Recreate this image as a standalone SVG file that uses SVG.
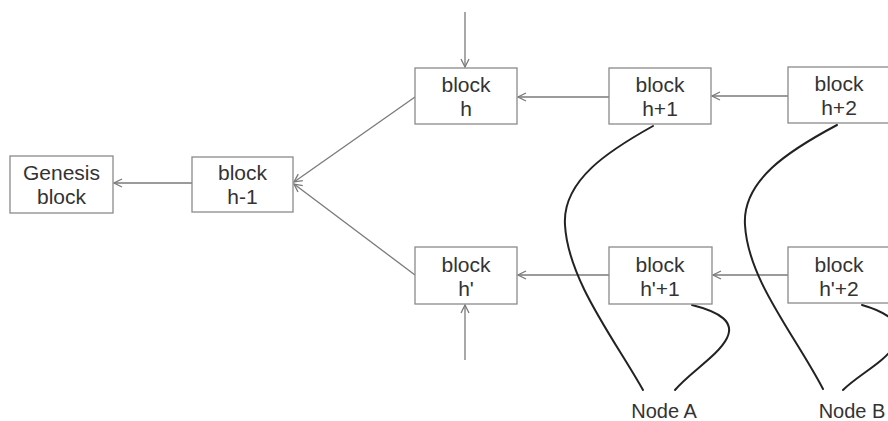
<svg xmlns="http://www.w3.org/2000/svg" width="888" height="421" viewBox="0 0 888 421">
  <style>
    .box { fill: #ffffff; stroke: #8a8a8a; stroke-width: 1.3; }
    .lbl { font-family: "Liberation Sans", Arial, sans-serif; font-size: 21px; fill: #333333; text-anchor: middle; }
    .link { fill: none; stroke: #7a7a7a; stroke-width: 1.3; marker-end: url(#arrow); }
    .peer { fill: none; stroke: #222222; stroke-width: 2; stroke-linecap: round; }
  </style>
  <defs>
    <marker id="arrow" viewBox="0 0 10 10" refX="9" refY="5" markerWidth="10" markerHeight="10" markerUnits="userSpaceOnUse" orient="auto">
      <polyline points="1,1 9,5 1,9" fill="none" stroke="#7a7a7a" stroke-width="1.3"/>
    </marker>
  </defs>
  <rect width="888" height="421" fill="#ffffff"/>

  <g id="connectors">
    <line class="link" x1="192" y1="183" x2="114" y2="183"/>
    <line class="link" x1="415" y1="97" x2="294" y2="182"/>
    <line class="link" x1="415" y1="275" x2="294" y2="184"/>
    <line class="link" x1="609" y1="97" x2="518" y2="97"/>
    <line class="link" x1="788" y1="96" x2="712" y2="96"/>
    <line class="link" x1="609" y1="275" x2="518" y2="275"/>
    <line class="link" x1="788" y1="275" x2="713" y2="275"/>
    <line class="link" x1="465" y1="12" x2="465" y2="67"/>
    <line class="link" x1="465" y1="360" x2="465" y2="305"/>
    <!-- peer links of Node A -->
    <path class="peer" d="M653,126 C610,150 562,180 565,225 C568,280 615,340 643,390"/>
    <path class="peer" d="M692,305 C720,312 735,322 727,338 C718,356 690,372 675,390"/>
    <!-- peer links of Node B -->
    <path class="peer" d="M837,125 C790,150 742,180 745,225 C748,280 795,335 823,389"/>
    <path class="peer" d="M862,305 C890,313 905,325 895,345 C885,362 858,375 843,390"/>
  </g>

  <g id="genesis">
    <rect class="box" x="10" y="156" width="103" height="57"/>
    <text class="lbl" x="61.5" y="180">Genesis</text>
    <text class="lbl" x="61.5" y="204">block</text>
  </g>
  <g id="block-h-1">
    <rect class="box" x="192" y="157" width="101" height="55"/>
    <text class="lbl" x="242.5" y="180">block</text>
    <text class="lbl" x="242.5" y="204">h-1</text>
  </g>
  <g id="block-h">
    <rect class="box" x="415" y="68" width="102" height="56"/>
    <text class="lbl" x="466" y="92">block</text>
    <text class="lbl" x="466" y="116">h</text>
  </g>
  <g id="block-h1">
    <rect class="box" x="609" y="68" width="102" height="56"/>
    <text class="lbl" x="660" y="92">block</text>
    <text class="lbl" x="660" y="116">h+1</text>
  </g>
  <g id="block-h2">
    <rect class="box" x="788" y="67" width="110" height="56"/>
    <text class="lbl" x="839" y="91">block</text>
    <text class="lbl" x="839" y="115">h+2</text>
  </g>
  <g id="block-hp">
    <rect class="box" x="415" y="247" width="102" height="57"/>
    <text class="lbl" x="466" y="272">block</text>
    <text class="lbl" x="466" y="296">h'</text>
  </g>
  <g id="block-hp1">
    <rect class="box" x="609" y="247" width="103" height="57"/>
    <text class="lbl" x="660" y="272">block</text>
    <text class="lbl" x="660" y="296">h'+1</text>
  </g>
  <g id="block-hp2">
    <rect class="box" x="788" y="247" width="110" height="56"/>
    <text class="lbl" x="839" y="272">block</text>
    <text class="lbl" x="839" y="296">h'+2</text>
  </g>
  <g id="node-a">
    <text class="lbl" x="664" y="418" style="font-size:20px">Node A</text>
  </g>
  <g id="node-b">
    <text class="lbl" x="852" y="418" style="font-size:20px">Node B</text>
  </g>
</svg>
